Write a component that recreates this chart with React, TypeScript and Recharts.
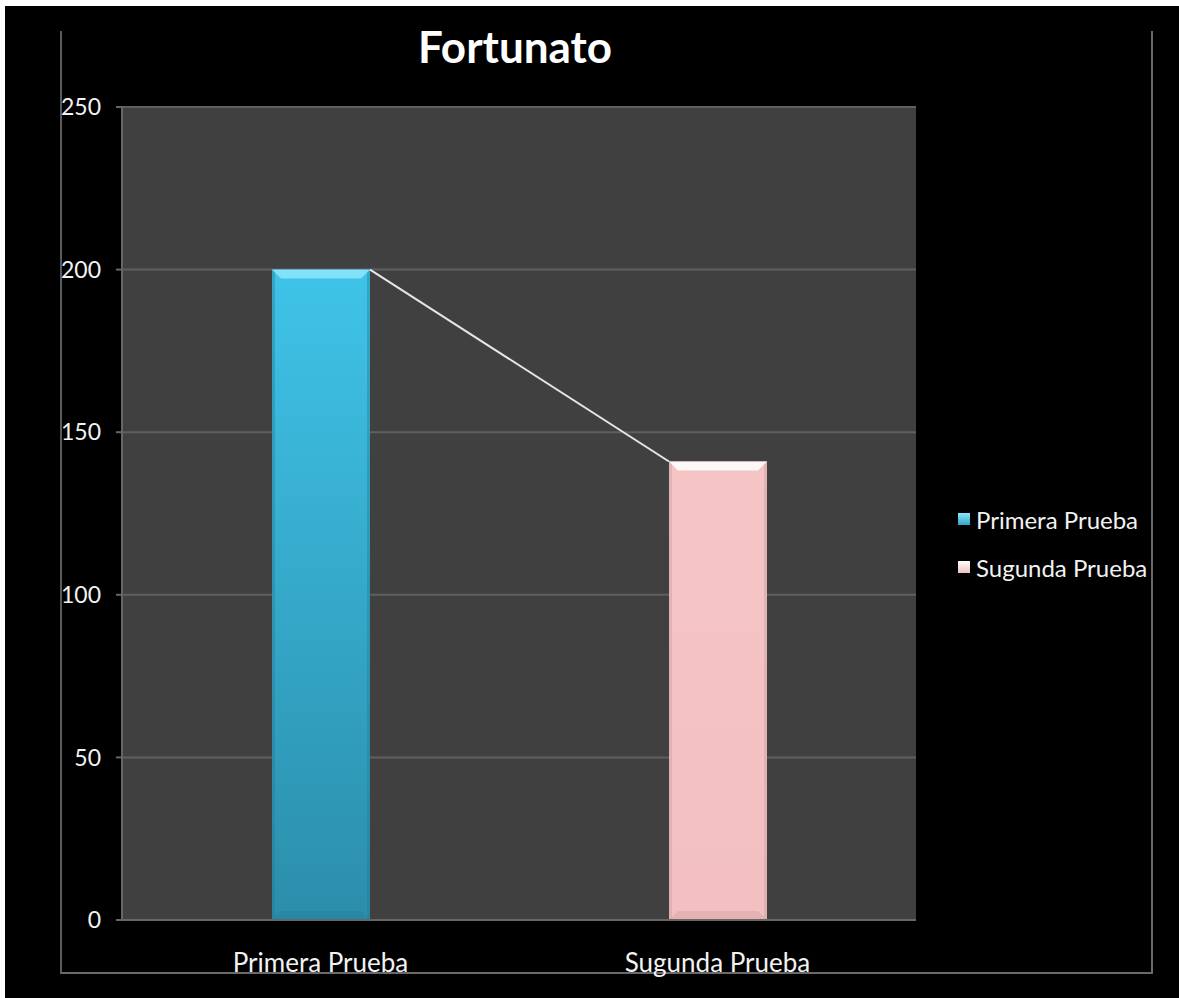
import { BarChart, Bar, XAxis, YAxis, CartesianGrid, Cell } from 'recharts';

const categories = ['Primera Prueba', 'Sugunda Prueba'];
const scores = [200, 141];
const yTicks = [0, 50, 100, 150, 200, 250];

const CHART_W = 1174;
const CHART_H = 992;
const MARGIN = { top: 101, right: 263, bottom: 0, left: 0 };
const Y_AXIS_W = 117;
const X_AXIS_H = 78;
const PLOT_W = CHART_W - MARGIN.left - MARGIN.right - Y_AXIS_W;
const BAND = PLOT_W / categories.length;

const FONT = 'Lato, "Open Sans", sans-serif';

const palette = [
  { id: 'gradPrimera', top: '#3fc3e8', bottom: '#2b8eab', bevel: '#8ee8fb', shade: '#237a94', swatch: '#2fa5c8' },
  { id: 'gradSegunda', top: '#f5c5c6', bottom: '#f3bfc0', bevel: '#ffffff', shade: '#c99a9b', swatch: '#f0c0c0' },
];

const data = categories.map((name, i) => ({ name, value: scores[i] }));

function BevelBar(props: any) {
  const { x, y, width, height, index, value } = props;
  const c = palette[index];
  const bevel = 9;
  const baseline = y + height;
  const next = scores[index + 1];
  return (
    <g>
      <rect x={x} y={y} width={width} height={height} fill={`url(#${c.id})`} />
      {/* side shading */}
      <rect x={x} y={y} width={3} height={height} fill={c.shade} opacity={0.4} />
      <rect x={x + width - 3} y={y} width={3} height={height} fill={c.shade} opacity={0.4} />
      {/* top bevel */}
      <polygon
        points={`${x},${y} ${x + width},${y} ${x + width - bevel},${y + bevel} ${x + bevel},${y + bevel}`}
        fill={c.bevel}
        opacity={0.85}
      />
      {/* bottom bevel */}
      <polygon
        points={`${x},${baseline} ${x + width},${baseline} ${x + width - bevel},${baseline - bevel} ${x + bevel},${baseline - bevel}`}
        fill={c.shade}
        opacity={0.35}
      />
      {next !== undefined && value > 0 && (
        <line
          x1={x + width}
          y1={y}
          x2={x + BAND}
          y2={baseline - (next * height) / value}
          stroke="#e6e6e6"
          strokeWidth={2}
        />
      )}
    </g>
  );
}

function LegendBox() {
  return (
    <div
      style={{
        position: 'absolute',
        left: 953,
        top: 489,
        fontFamily: FONT,
        fontSize: 24,
        color: '#f2f2f2',
      }}
    >
      {categories.map((name, i) => (
        <div key={name} style={{ display: 'flex', alignItems: 'center', height: 48 }}>
          <div
            style={{
              width: 12,
              height: 12,
              marginRight: 6,
              background: `linear-gradient(${palette[i].bevel}, ${palette[i].swatch})`,
            }}
          />
          {name}
        </div>
      ))}
    </div>
  );
}

export default function App() {
  return (
    <div
      style={{
        position: 'absolute',
        left: 5,
        top: 6,
        width: CHART_W,
        height: CHART_H,
        background: '#000',
        overflow: 'hidden',
      }}
    >
      <div
        style={{
          position: 'absolute',
          left: 55,
          top: 25,
          width: 1089,
          height: 941,
          borderLeft: '2px solid #5a5a5a',
          borderRight: '2px solid #6a6a6a',
          borderBottom: '2px solid #6a6a6a',
        }}
      />
      <div
        style={{
          position: 'absolute',
          left: 0,
          width: 1020,
          top: 14,
          textAlign: 'center',
          fontFamily: FONT,
          fontWeight: 700,
          fontSize: 44,
          color: '#fff',
        }}
      >
        Fortunato
      </div>
      <BarChart width={CHART_W} height={CHART_H} data={data} margin={MARGIN}>
        <defs>
          {palette.map((c) => (
            <linearGradient key={c.id} id={c.id} x1="0" y1="0" x2="0" y2="1">
              <stop offset="0%" stopColor={c.top} />
              <stop offset="100%" stopColor={c.bottom} />
            </linearGradient>
          ))}
        </defs>
        <CartesianGrid vertical={false} fill="#404040" stroke="#5f5f5f" strokeWidth={2} />
        <XAxis
          dataKey="name"
          height={X_AXIS_H}
          tickLine={false}
          tickSize={0}
          tickMargin={34}
          axisLine={{ stroke: '#666', strokeWidth: 2 }}
          tick={{ fill: '#f2f2f2', fontSize: 26, fontFamily: FONT }}
        />
        <YAxis
          width={Y_AXIS_W}
          domain={[0, 250]}
          ticks={yTicks}
          tickSize={6}
          tickMargin={15}
          tickLine={{ stroke: '#666', strokeWidth: 2 }}
          axisLine={{ stroke: '#666', strokeWidth: 2 }}
          tick={{ fill: '#f2f2f2', fontSize: 23, fontFamily: FONT }}
        />
        <Bar dataKey="value" barSize={98} shape={BevelBar} isAnimationActive={false}>
          {data.map((d, i) => (
            <Cell key={d.name} fill={palette[i].top} />
          ))}
        </Bar>
      </BarChart>
      <LegendBox />
    </div>
  );
}
